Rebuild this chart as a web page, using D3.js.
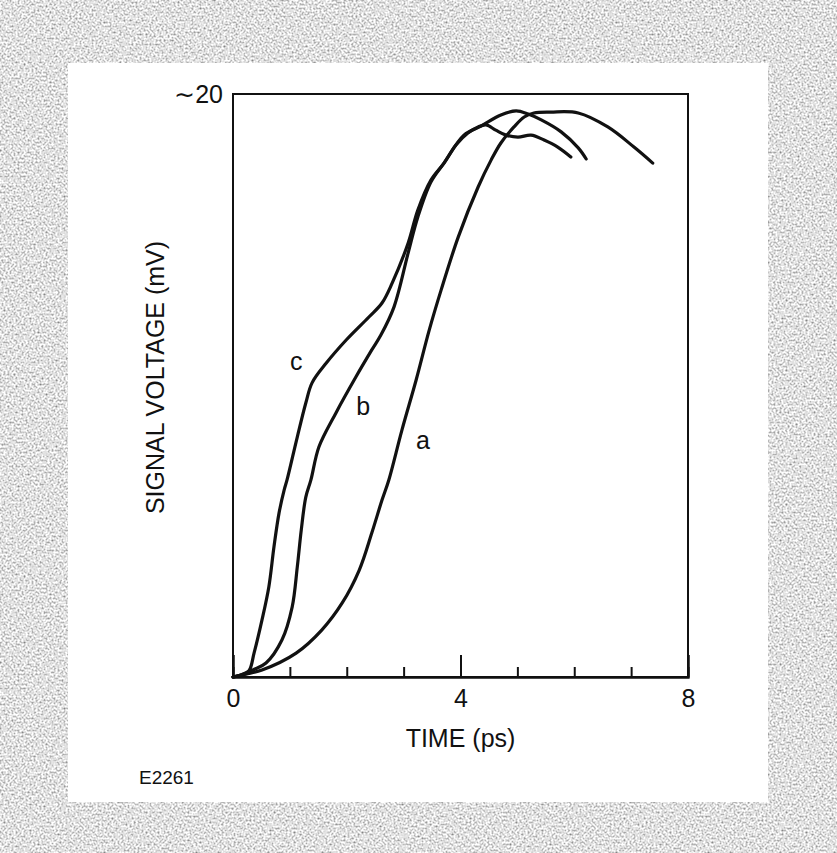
<!DOCTYPE html>
<html>
<head>
<meta charset="utf-8">
<script src="https://cdn.jsdelivr.net/npm/d3@7"></script>
<style>
  body { margin: 0; background: #fff; }
  text { font-family: "Liberation Sans", Arial, sans-serif; fill: #111; }
</style>
</head>
<body>
<div class="canvas"></div>
<script>
// data (time in ps, voltage in mV)
const aTime = [0, 0.23, 0.51, 1.11, 1.56, 1.92, 2.22, 2.44, 2.62, 2.74, 2.97, 3.22, 3.45, 3.66, 3.96, 4.31, 4.54, 4.71, 4.94, 5.12, 5.29, 5.59, 6.07, 6.59, 7.05, 7.38];
const aVolt = [0, 0.10, 0.24, 0.82, 1.61, 2.54, 3.67, 4.94, 6.07, 6.76, 8.47, 10.19, 11.90, 13.28, 15.09, 16.81, 17.74, 18.32, 18.87, 19.21, 19.35, 19.38, 19.35, 18.87, 18.18, 17.63];

const bTime = [0, 0.14, 0.35, 0.58, 0.86, 1.04, 1.13, 1.20, 1.28, 1.37, 1.51, 1.81, 2.16, 2.44, 2.60, 2.83, 3.08, 3.25, 3.48, 3.71, 4.06, 4.36, 4.71, 4.98, 5.19, 5.42, 5.77, 6.07, 6.21];
const bVolt = [0, 0.07, 0.24, 0.48, 1.27, 2.40, 3.77, 5.04, 6.17, 6.76, 7.89, 9.06, 10.29, 11.22, 11.73, 12.69, 14.55, 15.78, 16.98, 17.63, 18.59, 18.90, 19.28, 19.42, 19.31, 19.11, 18.70, 18.15, 17.77];

const cTime = [0, 0.14, 0.28, 0.37, 0.51, 0.63, 0.72, 0.81, 0.90, 0.95, 1.13, 1.28, 1.39, 1.64, 1.99, 2.39, 2.62, 2.80, 3.08, 3.25, 3.48, 3.71, 3.92, 4.13, 4.31, 4.45, 4.62, 4.80, 5.01, 5.24, 5.47, 5.71, 5.94];
const cVolt = [0, 0.07, 0.21, 0.82, 1.96, 3.09, 4.46, 5.63, 6.42, 6.76, 8.23, 9.40, 10.09, 10.77, 11.56, 12.35, 12.83, 13.52, 14.89, 16.02, 17.05, 17.63, 18.25, 18.66, 18.87, 18.94, 18.76, 18.59, 18.52, 18.59, 18.42, 18.18, 17.84];

const seriesNames = ['a', 'b', 'c'];
const labelTime = [3.34, 2.29, 1.11];
const labelVolt = [7.82, 8.99, 10.53];

const majorTicks = [0, 4, 8];
const minorTicks = [1, 2, 3, 5, 6, 7];
const yTickValues = [20];
const yTickLabels = ['\u223C20'];

// dimensions
const svgDimensions = { width: 837, height: 853 };
const plot = { left: 233, right: 688, top: 94, bottom: 677 };

const svg = d3.select('.canvas')
    .append('svg')
        .attr('width', svgDimensions.width)
        .attr('height', svgDimensions.height);

// speckled grey border like the scanned page
const defs = svg.append('defs');
const grain = defs.append('filter')
    .attr('id', 'grain')
    .attr('filterUnits', 'userSpaceOnUse')
    .attr('x', 0).attr('y', 0)
    .attr('width', svgDimensions.width).attr('height', svgDimensions.height);
grain.append('feTurbulence')
    .attr('type', 'fractalNoise')
    .attr('baseFrequency', 0.5)
    .attr('numOctaves', 3)
    .attr('seed', 7);
grain.append('feColorMatrix')
    .attr('type', 'matrix')
    .attr('values', '1.5 0 0 0 0.0  1.5 0 0 0 0.0  1.5 0 0 0 0.0  0 0 0 0 1');

svg.append('rect')
    .attr('width', svgDimensions.width)
    .attr('height', svgDimensions.height)
    .attr('filter', 'url(#grain)');

svg.append('rect')
    .attr('x', 68).attr('y', 63)
    .attr('width', 700).attr('height', 739)
    .attr('fill', '#fff');

const x = d3.scaleLinear().domain([0, 8]).range([plot.left, plot.right]);
const y = d3.scaleLinear().domain([0, 20]).range([plot.bottom, plot.top]);

// frame
svg.append('rect')
    .attr('x', plot.left).attr('y', plot.top)
    .attr('width', plot.right - plot.left)
    .attr('height', plot.bottom - plot.top)
    .attr('fill', 'none')
    .attr('stroke', '#111')
    .attr('stroke-width', 2);

// x axis, ticks pointing inward
const minorAxis = d3.axisBottom(x)
    .tickValues(minorTicks)
    .tickSize(-10)
    .tickFormat('');
const majorAxis = d3.axisBottom(x)
    .tickValues(majorTicks)
    .tickSize(-22)
    .tickPadding(12)
    .tickFormat(d3.format('d'));

[minorAxis, majorAxis].forEach(ax => {
    const g = svg.append('g')
        .attr('transform', `translate(0,${plot.bottom})`)
        .call(ax);
    g.select('.domain').attr('stroke', '#111').attr('stroke-width', 2);
    g.selectAll('.tick line').attr('stroke', '#111').attr('stroke-width', 2);
    g.selectAll('.tick text')
        .style('font-family', '"Liberation Sans", Arial, sans-serif')
        .style('font-size', '25px')
        .attr('fill', '#111');
});

// y axis: only the ~20 mark
const yAxis = d3.axisLeft(y)
    .tickValues(yTickValues)
    .tickSize(0)
    .tickPadding(10)
    .tickFormat((d, i) => yTickLabels[i]);
const yg = svg.append('g')
    .attr('transform', `translate(${plot.left},0)`)
    .call(yAxis);
yg.select('.domain').remove();
yg.selectAll('.tick text')
    .style('font-family', '"Liberation Sans", Arial, sans-serif')
    .style('font-size', '25px')
    .attr('fill', '#111');

// axis titles
svg.append('text')
    .attr('x', (plot.left + plot.right) / 2)
    .attr('y', 747)
    .attr('text-anchor', 'middle')
    .style('font-size', '25px')
    .text('TIME (ps)');

svg.append('text')
    .attr('transform', `translate(164,${(plot.top + plot.bottom) / 2 - 8}) rotate(-90)`)
    .attr('text-anchor', 'middle')
    .style('font-size', '25px')
    .text('SIGNAL VOLTAGE (mV)');

svg.append('text')
    .attr('x', 139)
    .attr('y', 784)
    .style('font-size', '19px')
    .text('E2261');

// curves
const series = [
    { name: 'a', time: aTime, volt: aVolt },
    { name: 'b', time: bTime, volt: bVolt },
    { name: 'c', time: cTime, volt: cVolt }
];

const lineGenerator = d3.line()
    .x(d => x(d[0]))
    .y(d => y(d[1]))
    .curve(d3.curveCatmullRom.alpha(0.5));

svg.append('g')
    .selectAll('path')
    .data(series)
    .enter()
    .append('path')
        .attr('d', s => lineGenerator(s.time.map((t, i) => [t, s.volt[i]])))
        .attr('fill', 'none')
        .attr('stroke', '#111')
        .attr('stroke-width', 3.2)
        .attr('stroke-linecap', 'round')
        .attr('stroke-linejoin', 'round');

svg.append('g')
    .selectAll('text')
    .data(seriesNames)
    .enter()
    .append('text')
        .attr('x', (d, i) => x(labelTime[i]))
        .attr('y', (d, i) => y(labelVolt[i]))
        .attr('text-anchor', 'middle')
        .style('font-size', '25px')
        .text(d => d);
</script>
</body>
</html>
